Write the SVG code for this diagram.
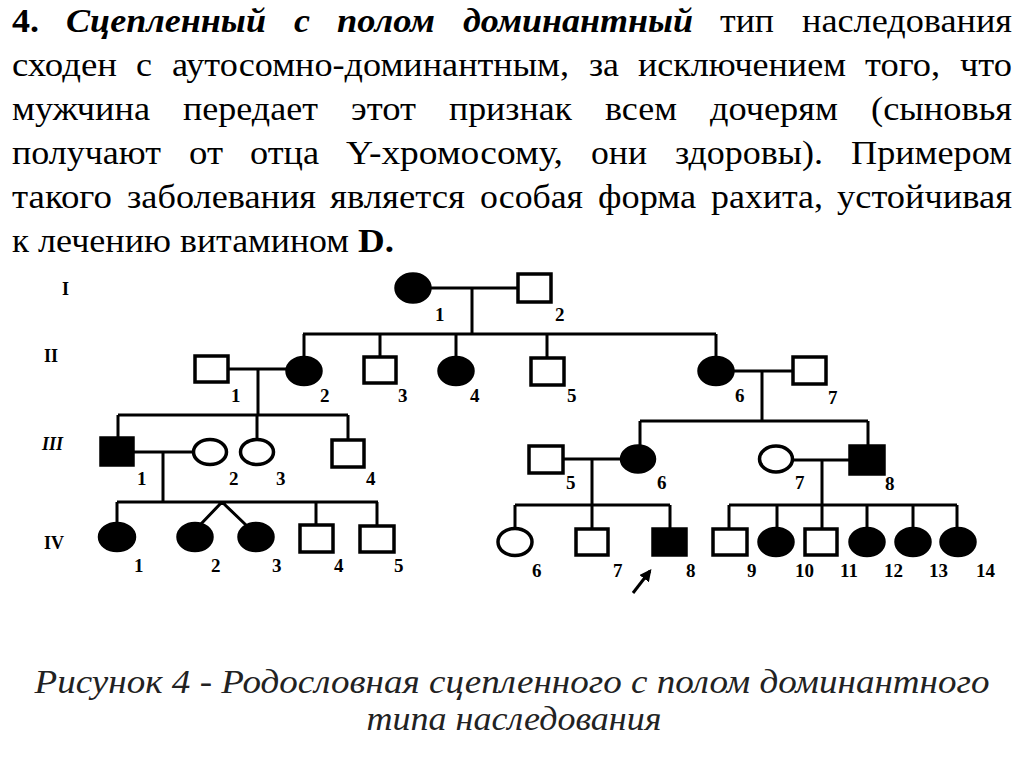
<svg xmlns="http://www.w3.org/2000/svg" width="1024" height="767" viewBox="0 0 1024 767">
<style>
.t{font-family:'Liberation Serif','DejaVu Serif Condensed','DejaVu Serif',serif;font-size:34px;fill:#000}
.b{font-weight:bold}
.bi{font-weight:bold;font-style:italic}
.lbl{font-family:'Liberation Serif','DejaVu Serif',serif;font-size:19px;font-weight:bold;fill:#000}
.gen{font-family:'Liberation Serif','DejaVu Serif',serif;font-size:18px;font-weight:bold;fill:#000}
.ln{stroke:#000;stroke-width:3;fill:none}
.sym{stroke:#000;stroke-width:3.5}
.open{fill:#fff}
.full{fill:#000}
.cap{font-family:'Liberation Serif','DejaVu Serif Condensed','DejaVu Serif',serif;font-style:italic;font-size:34px;fill:#222;text-anchor:middle}
</style>
<defs>
<marker id="ah" viewBox="0 0 10 10" refX="8" refY="5" markerWidth="4" markerHeight="4" orient="auto">
<path d="M0,0 L10,5 L0,10 z" fill="#000"/>
</marker>
</defs>
<rect width="1024" height="767" fill="#fff"/>
<g id="paragraph" lengthAdjust="spacingAndGlyphs">
<text class="t b" x="12" y="32" textLength="27" lengthAdjust="spacingAndGlyphs">4.</text>
<text class="t bi" x="66" y="32" textLength="200" lengthAdjust="spacingAndGlyphs">Сцепленный</text>
<text class="t bi" x="294" y="32" textLength="16" lengthAdjust="spacingAndGlyphs">с</text>
<text class="t bi" x="337" y="32" textLength="98" lengthAdjust="spacingAndGlyphs">полом</text>
<text class="t bi" x="463" y="32" textLength="230" lengthAdjust="spacingAndGlyphs">доминантный</text>
<text class="t" x="720" y="32" textLength="54" lengthAdjust="spacingAndGlyphs">тип</text>
<text class="t" x="802" y="32" textLength="210" lengthAdjust="spacingAndGlyphs">наследования</text>

<text class="t" x="12" y="76" textLength="105" lengthAdjust="spacingAndGlyphs">сходен</text>
<text class="t" x="136" y="76" textLength="16" lengthAdjust="spacingAndGlyphs">с</text>
<text class="t" x="172" y="76" textLength="397" lengthAdjust="spacingAndGlyphs">аутосомно-доминантным,</text>
<text class="t" x="589" y="76" textLength="30" lengthAdjust="spacingAndGlyphs">за</text>
<text class="t" x="638" y="76" textLength="208" lengthAdjust="spacingAndGlyphs">исключением</text>
<text class="t" x="865" y="76" textLength="75" lengthAdjust="spacingAndGlyphs">того,</text>
<text class="t" x="960" y="76" textLength="52" lengthAdjust="spacingAndGlyphs">что</text>

<text class="t" x="12" y="120" textLength="138" lengthAdjust="spacingAndGlyphs">мужчина</text>
<text class="t" x="183" y="120" textLength="135" lengthAdjust="spacingAndGlyphs">передает</text>
<text class="t" x="351" y="120" textLength="65" lengthAdjust="spacingAndGlyphs">этот</text>
<text class="t" x="449" y="120" textLength="123" lengthAdjust="spacingAndGlyphs">признак</text>
<text class="t" x="605" y="120" textLength="72" lengthAdjust="spacingAndGlyphs">всем</text>
<text class="t" x="710" y="120" textLength="128" lengthAdjust="spacingAndGlyphs">дочерям</text>
<text class="t" x="871" y="120" textLength="141" lengthAdjust="spacingAndGlyphs">(сыновья</text>

<text class="t" x="12" y="164" textLength="149" lengthAdjust="spacingAndGlyphs">получают</text>
<text class="t" x="189" y="164" textLength="34" lengthAdjust="spacingAndGlyphs">от</text>
<text class="t" x="250" y="164" textLength="69" lengthAdjust="spacingAndGlyphs">отца</text>
<text class="t" x="346" y="164" textLength="217" lengthAdjust="spacingAndGlyphs">Y-хромосому,</text>
<text class="t" x="591" y="164" textLength="56" lengthAdjust="spacingAndGlyphs">они</text>
<text class="t" x="675" y="164" textLength="148" lengthAdjust="spacingAndGlyphs">здоровы).</text>
<text class="t" x="851" y="164" textLength="161" lengthAdjust="spacingAndGlyphs">Примером</text>

<text class="t" x="12" y="208" textLength="100" lengthAdjust="spacingAndGlyphs">такого</text>
<text class="t" x="127" y="208" textLength="189" lengthAdjust="spacingAndGlyphs">заболевания</text>
<text class="t" x="330" y="208" textLength="135" lengthAdjust="spacingAndGlyphs">является</text>
<text class="t" x="480" y="208" textLength="103" lengthAdjust="spacingAndGlyphs">особая</text>
<text class="t" x="598" y="208" textLength="98" lengthAdjust="spacingAndGlyphs">форма</text>
<text class="t" x="711" y="208" textLength="112" lengthAdjust="spacingAndGlyphs">рахита,</text>
<text class="t" x="837" y="208" textLength="175" lengthAdjust="spacingAndGlyphs">устойчивая</text>

<text class="t" x="12" y="252" textLength="17" lengthAdjust="spacingAndGlyphs">к</text>
<text class="t" x="38" y="252" textLength="133" lengthAdjust="spacingAndGlyphs">лечению</text>
<text class="t" x="180" y="252" textLength="169" lengthAdjust="spacingAndGlyphs">витамином</text>
<text class="t b" x="358" y="252" textLength="36" lengthAdjust="spacingAndGlyphs">D.</text>
</g>

<g id="generation-labels">
<text class="gen" x="62" y="295">I</text>
<text class="gen" x="44" y="362">II</text>
<text class="gen" x="42" y="450" font-style="italic">III</text>
<text class="gen" x="44" y="549">IV</text>
</g>

<g id="connectors">
<path class="ln" d="M430 288H518M472 288V334M303 334H716"/>
<path class="ln" d="M304 334V357M380 334V357M456 334V357M547 334V358M716 334V357"/>
<path class="ln" d="M228 369H287M258 369V415M733 371H793M762 371V421"/>
<path class="ln" d="M118 415H348M118 415V438M257 415V439M348 415V440"/>
<path class="ln" d="M640 421H868M640 421V446M868 421V446"/>
<path class="ln" d="M133 452H193M163 452V502M563 459H621M592 459V529M792 460H850M822 460V529"/>
<path class="ln" d="M117 502H378M117 502V523M222 502L200 525M222 502L246 525M316 502V525M377 502V526"/>
<path class="ln" d="M515 505H670M515 505V528M670 505V529"/>
<path class="ln" d="M729 505H957M729 505V529M777 505V528M867 505V528M913 505V528M957 505V528"/>
<line class="ln" x1="633" y1="593" x2="650" y2="571" marker-end="url(#ah)"/>
</g>

<g id="I-1"><ellipse class="sym full" cx="413" cy="288" rx="17" ry="14"/><text class="lbl" x="435" y="321">1</text></g>
<g id="I-2"><rect class="sym open" x="518" y="274" width="33" height="28"/><text class="lbl" x="555" y="321">2</text></g>

<g id="II-1"><rect class="sym open" x="195" y="356" width="33" height="26"/><text class="lbl" x="231" y="402">1</text></g>
<g id="II-2"><ellipse class="sym full" cx="304" cy="371" rx="17" ry="13.5"/><text class="lbl" x="320" y="402">2</text></g>
<g id="II-3"><rect class="sym open" x="364" y="357" width="32" height="26"/><text class="lbl" x="398" y="402">3</text></g>
<g id="II-4"><ellipse class="sym full" cx="456" cy="371" rx="17" ry="13.5"/><text class="lbl" x="470" y="402">4</text></g>
<g id="II-5"><rect class="sym open" x="531" y="358" width="33" height="27"/><text class="lbl" x="567" y="402">5</text></g>
<g id="II-6"><ellipse class="sym full" cx="716" cy="371" rx="17" ry="13.5"/><text class="lbl" x="735" y="402">6</text></g>
<g id="II-7"><rect class="sym open" x="793" y="357" width="33" height="27"/><text class="lbl" x="828" y="404">7</text></g>

<g id="III-1"><rect class="sym full" x="101" y="438" width="32" height="27"/><text class="lbl" x="137" y="485">1</text></g>
<g id="III-2"><ellipse class="sym open" cx="210" cy="452" rx="16.5" ry="12.5"/><text class="lbl" x="229" y="485">2</text></g>
<g id="III-3"><ellipse class="sym open" cx="257" cy="452" rx="16.5" ry="12.5"/><text class="lbl" x="276" y="485">3</text></g>
<g id="III-4"><rect class="sym open" x="332" y="440" width="32" height="27"/><text class="lbl" x="366" y="485">4</text></g>
<g id="III-5"><rect class="sym open" x="529" y="446" width="34" height="27"/><text class="lbl" x="566" y="489">5</text></g>
<g id="III-6"><ellipse class="sym full" cx="638" cy="459" rx="16.5" ry="13"/><text class="lbl" x="657" y="489">6</text></g>
<g id="III-7"><ellipse class="sym open" cx="776" cy="459" rx="16.5" ry="13"/><text class="lbl" x="795" y="489">7</text></g>
<g id="III-8"><rect class="sym full" x="850" y="446" width="34" height="28"/><text class="lbl" x="885" y="490">8</text></g>

<g id="IV-1"><ellipse class="sym full" cx="117" cy="537" rx="17.5" ry="13.5"/><text class="lbl" x="134" y="572">1</text></g>
<g id="IV-2"><ellipse class="sym full" cx="195" cy="537" rx="17" ry="13.5"/><text class="lbl" x="211" y="572">2</text></g>
<g id="IV-3"><ellipse class="sym full" cx="256" cy="537" rx="17" ry="13.5"/><text class="lbl" x="272" y="572">3</text></g>
<g id="IV-4"><rect class="sym open" x="300" y="525" width="33" height="27"/><text class="lbl" x="334" y="572">4</text></g>
<g id="IV-5"><rect class="sym open" x="360" y="526" width="34" height="26"/><text class="lbl" x="394" y="572">5</text></g>
<g id="IV-6"><ellipse class="sym open" cx="515" cy="542" rx="17" ry="13.5"/><text class="lbl" x="532" y="577">6</text></g>
<g id="IV-7"><rect class="sym open" x="576" y="529" width="32" height="26"/><text class="lbl" x="613" y="577">7</text></g>
<g id="IV-8"><rect class="sym full" x="653" y="529" width="33" height="26"/><text class="lbl" x="686" y="577">8</text></g>
<g id="IV-9"><rect class="sym open" x="713" y="529" width="34" height="26"/><text class="lbl" x="747" y="577">9</text></g>
<g id="IV-10"><ellipse class="sym full" cx="776" cy="542" rx="17" ry="13.5"/><text class="lbl" x="795" y="577">10</text></g>
<g id="IV-11"><rect class="sym open" x="805" y="529" width="32" height="26"/><text class="lbl" x="840" y="577">11</text></g>
<g id="IV-12"><ellipse class="sym full" cx="867" cy="542" rx="17" ry="13.5"/><text class="lbl" x="884" y="577">12</text></g>
<g id="IV-13"><ellipse class="sym full" cx="913" cy="542" rx="17" ry="13.5"/><text class="lbl" x="929" y="577">13</text></g>
<g id="IV-14"><ellipse class="sym full" cx="958" cy="542" rx="17" ry="13.5"/><text class="lbl" x="976" y="577">14</text></g>

<g id="caption">
<text class="cap" x="512" y="693" textLength="955" lengthAdjust="spacingAndGlyphs">Рисунок 4 - Родословная сцепленного с полом доминантного</text>
<text class="cap" x="514" y="730" textLength="295" lengthAdjust="spacingAndGlyphs">типа наследования</text>
</g>
</svg>
